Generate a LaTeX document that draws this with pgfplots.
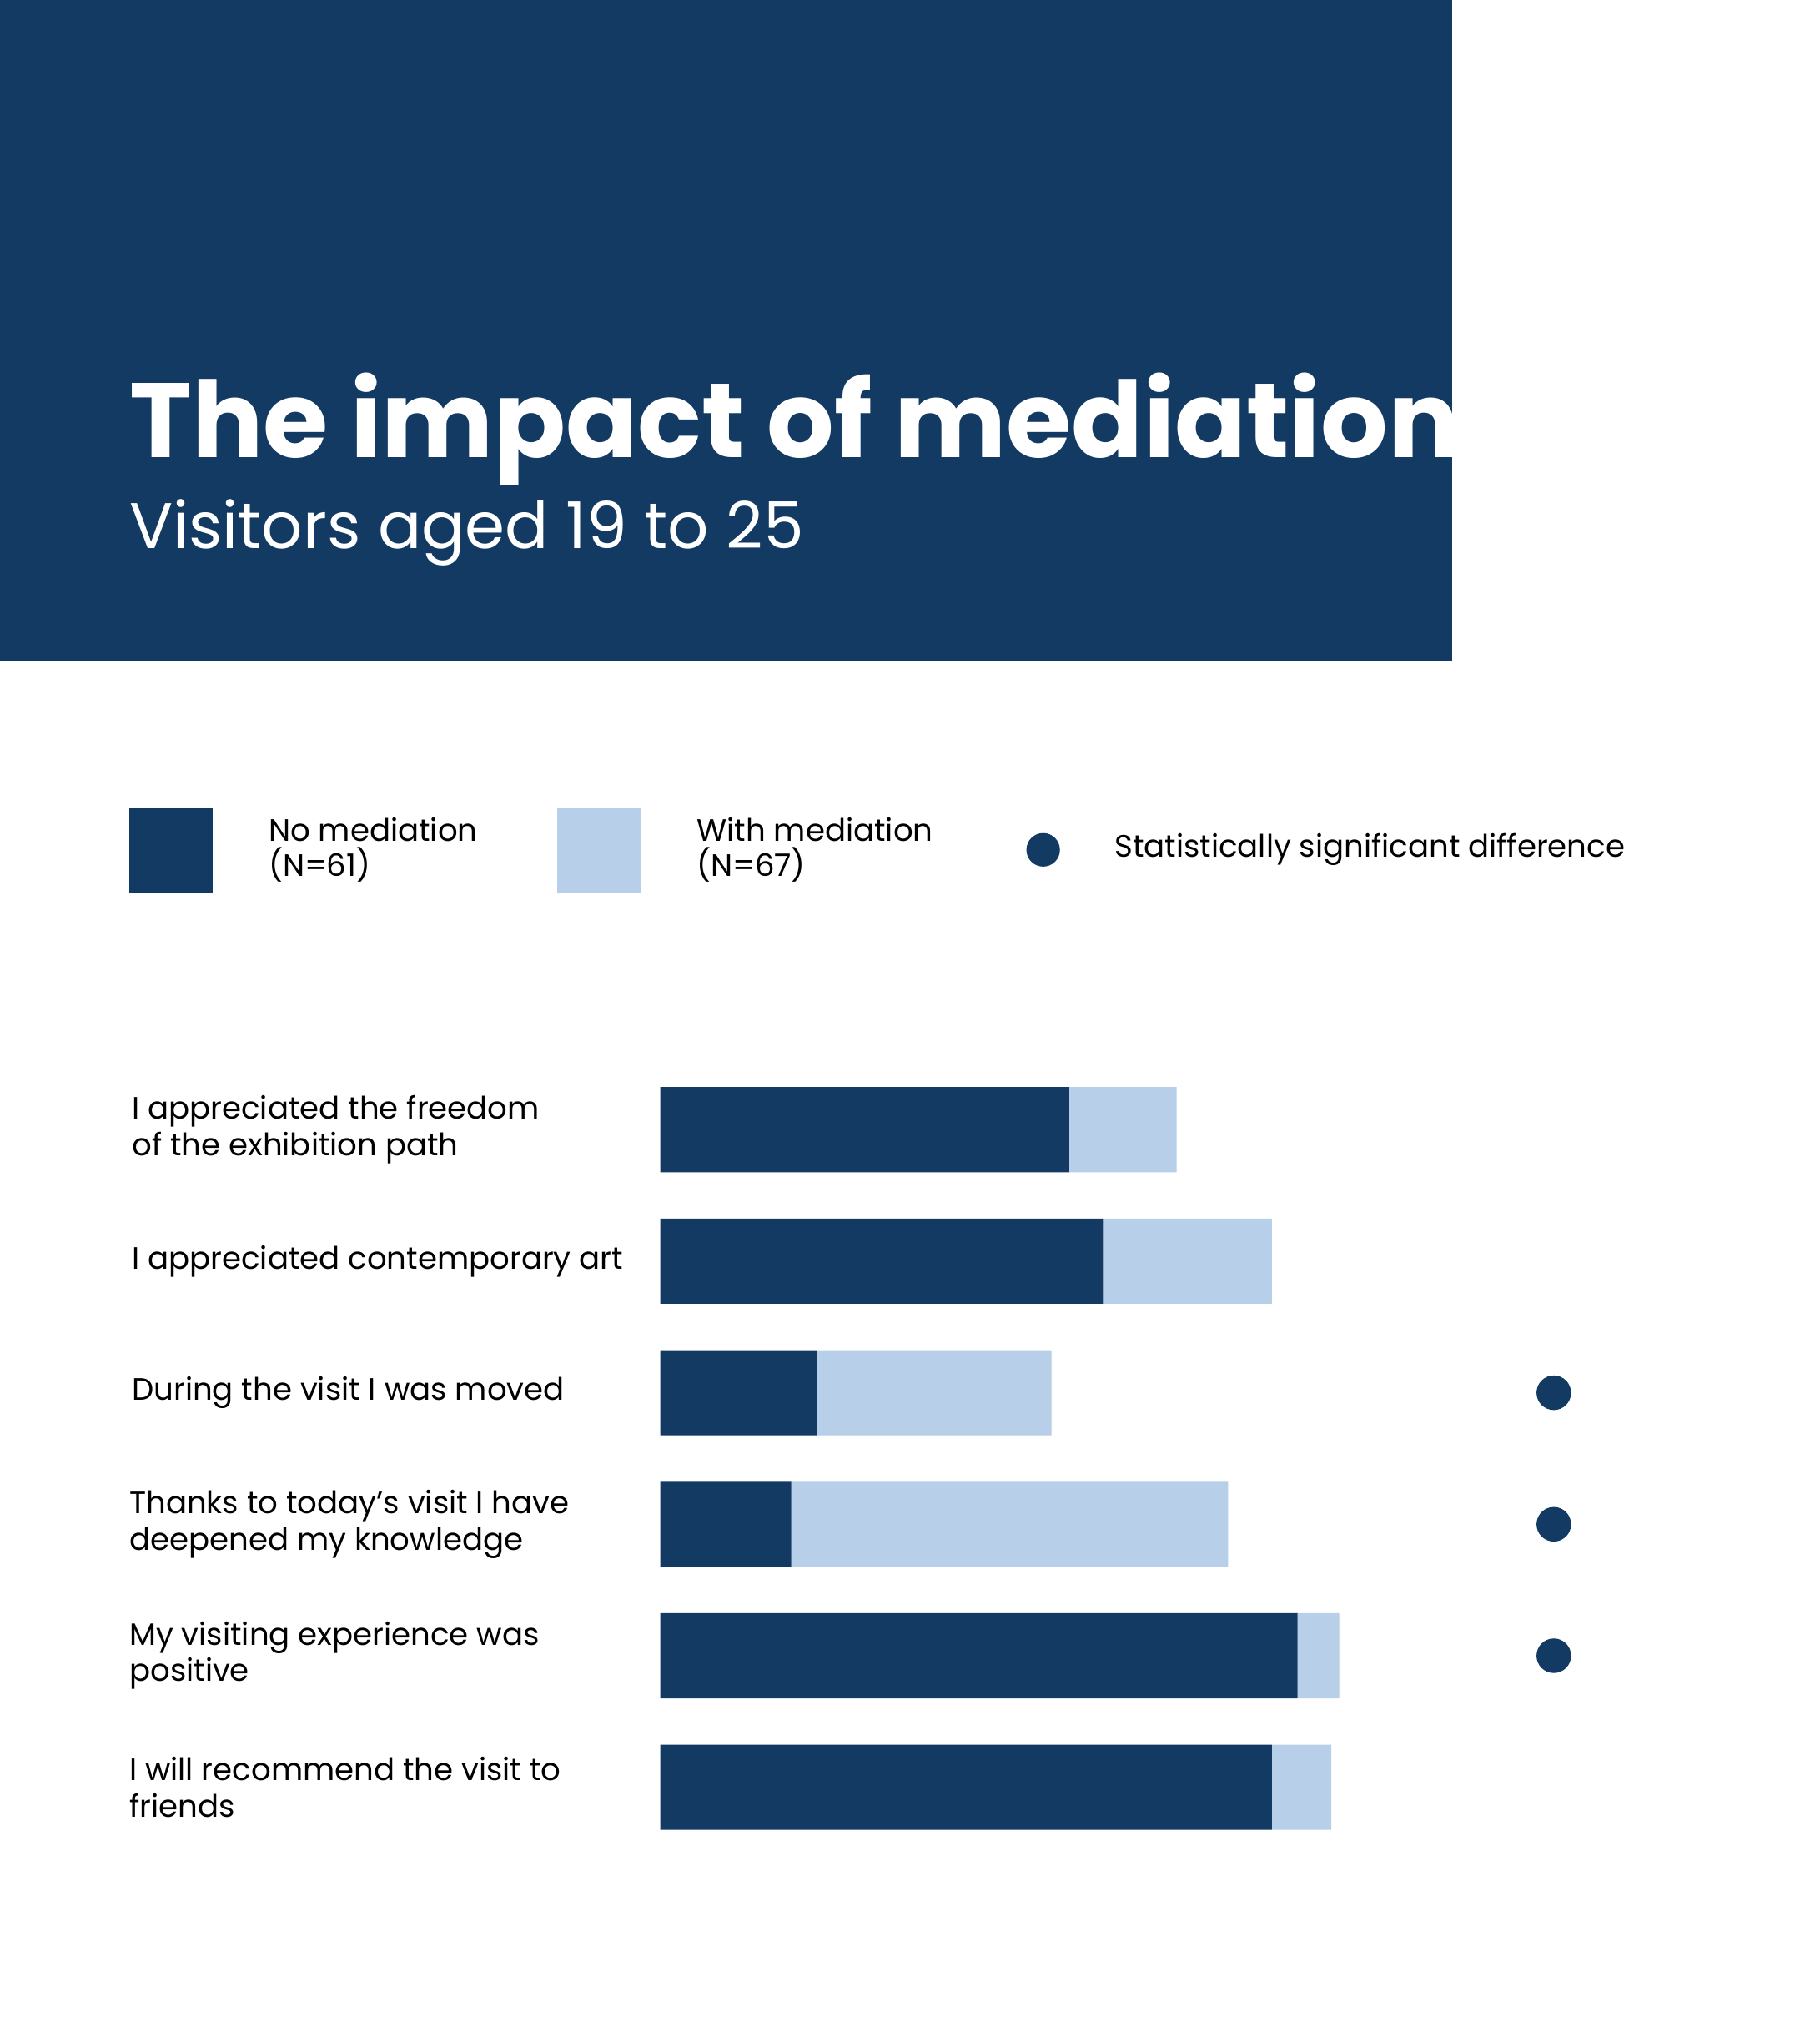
\documentclass[border=0pt]{standalone}
\usepackage{pgfplots}
\pgfplotsset{compat=1.18}
\usepackage{fontspec}
\setmainfont{Poppins}
\definecolor{navy}{HTML}{133A63}
\definecolor{lblue}{HTML}{B7CFE8}
\begin{document}
\begin{tikzpicture}[x=0.5pt,y=-0.5pt]
\fill[white] (0,0) rectangle (1411,1568);
\fill[navy] (0,0) rectangle (1126,513);
\node[anchor=base west,inner sep=0,text=white,font=\fontsize{41}{45}\selectfont\bfseries] at (100,355) {The impact of mediation};
\node[anchor=base west,inner sep=0,text=white,font=\fontsize{25}{30}\selectfont] at (100,425) {Visitors aged 19 to 25};
% legend
\fill[navy] (100,627) rectangle (165,692);
\fill[lblue] (432,627) rectangle (497,692);
\node[anchor=west,align=left,inner sep=0,font=\fontsize{12}{13.5}\selectfont] at (208,659) {No mediation\\(N=61)};
\node[anchor=west,align=left,inner sep=0,font=\fontsize{12}{13.5}\selectfont] at (540,659) {With mediation\\(N=67)};
\fill[navy] (809,659) circle (13);
\node[anchor=west,inner sep=0,font=\fontsize{12}{13.5}\selectfont] at (864,659) {Statistically significant difference};
% category labels
\begin{scope}[every node/.style={anchor=west,align=left,inner sep=0,font=\fontsize{12}{14}\selectfont}]
\node at (102,876) {I appreciated the freedom\\of the exhibition path};
\node at (102,978) {I appreciated contemporary art};
\node at (102,1080) {During the visit I was moved};
\node at (100,1182) {Thanks to today’s visit I have\\deepened my knowledge};
\node at (100,1284) {My visiting experience was\\positive};
\node at (100,1386) {I will recommend the visit to\\friends};
\end{scope}
\begin{axis}[at={(256pt,-725pt)},anchor=south west,scale only axis,
  width=308pt,height=321pt,
  xmin=60,xmax=100,ymin=808,ymax=1450,y dir=reverse,
  axis lines=none, clip=false,
  xbar stacked, bar width=33pt,
  xmajorgrids, grid style={black,line width=1.2pt},
  xtick={60,70,80,90,100}, ytick=\empty,
  tick label style={font=\fontsize{8.5}{10}\selectfont},
  /pgf/number format/assume math mode=true,
  xlabel={Agreement scale from 0 to 100},
  xlabel style={font=\fontsize{9}{10}\selectfont,yshift=-2pt},
]
\addplot[fill=navy,draw=none] coordinates {(80.6,876) (82.3,978) (67.9,1080) (66.6,1182) (92.1,1284) (90.8,1386)};
\addplot[fill=lblue,draw=none] coordinates {(5.4,876) (8.5,978) (11.8,1080) (22.0,1182) (2.1,1284) (3.0,1386)};
\end{axis}
\begin{axis}[at={(256pt,-725pt)},anchor=south west,scale only axis,
  width=308pt,height=321pt,
  xmin=60,xmax=100,ymin=808,ymax=1450,y dir=reverse,
  axis lines=none, clip=false]
\addplot[only marks,mark=*,mark size=6.5pt,navy] coordinates {(105,1080) (105,1182) (105,1284)};
\end{axis}
\end{tikzpicture}
\end{document}
